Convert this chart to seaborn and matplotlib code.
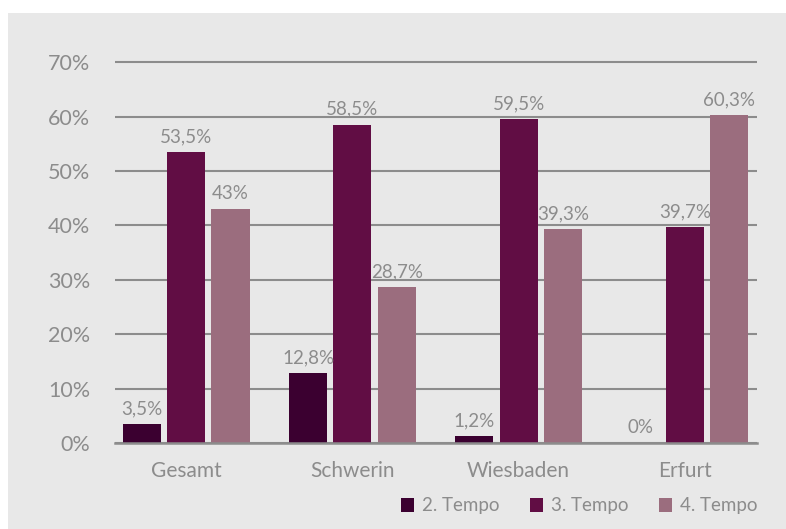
import matplotlib
matplotlib.use("Agg")
import matplotlib.pyplot as plt
import seaborn as sns
import pandas as pd
from matplotlib.patches import Rectangle, Patch

categories = ["Gesamt", "Schwerin", "Wiesbaden", "Erfurt"]
series_names = ["2. Tempo", "3. Tempo", "4. Tempo"]
tempo2 = [3.5, 12.8, 1.2, 0.0]
tempo3 = [53.5, 58.5, 59.5, 39.7]
tempo4 = [43.0, 28.7, 39.3, 60.3]
yticks = [0, 10, 20, 30, 40, 50, 60, 70]

colors = ["#3b0030", "#610d44", "#9b6d7e"]
txt = "#8c8c8c"
grid = "#8c8c8c"
bg = "#e8e8e8"

rows = []
for name, vals in zip(series_names, [tempo2, tempo3, tempo4]):
    for c, v in zip(categories, vals):
        rows.append({"Ort": c, "Serie": name, "Wert": v})
df = pd.DataFrame(rows)

sns.set_theme(style="white")
plt.rcParams["font.family"] = ["Lato", "DejaVu Sans"]

fig = plt.figure(figsize=(7.86, 5.29), dpi=100)
fig.patch.set_facecolor("white")
fig.patches.append(Rectangle((8 / 786, 0), 1, 1 - 13 / 529, transform=fig.transFigure,
                             facecolor=bg, edgecolor="none", zorder=-10))
ax = fig.add_axes([115 / 786, 1 - 443 / 529, (757 - 115) / 786, 0.903 - (1 - 443 / 529)])
ax.set_facecolor(bg)
ax.patch.set_alpha(0)

sns.barplot(data=df, x="Ort", y="Wert", hue="Serie", palette=colors, width=0.8, gap=0.14,
            order=categories, hue_order=series_names, ax=ax, legend=False, zorder=3,
            saturation=1, linewidth=0, edgecolor="none", err_kws={"linewidth": 0})

ax.set_ylim(0, 72)
ax.set_xlim(-0.428, 3.434)
ax.set_yticks(yticks)
ax.set_yticklabels([f"{t}%" for t in yticks])
ax.yaxis.grid(True, color=grid, linewidth=1.5, zorder=0)
ax.set_axisbelow(True)
for s in ["top", "right", "left"]:
    ax.spines[s].set_visible(False)
ax.spines["bottom"].set_color(grid)
ax.spines["bottom"].set_linewidth(1.8)
ax.spines["bottom"].set_zorder(5)
ax.tick_params(axis="y", length=0, pad=18, labelsize=15.5, labelcolor=txt)
ax.tick_params(axis="x", length=0, pad=13, labelsize=15, labelcolor=txt)
ax.set_xlabel("")
ax.set_ylabel("")

def fmt(v):
    return f"{v:g}".replace(".", ",") + "%"

for cont in ax.containers:
    ax.bar_label(cont, labels=[fmt(b.get_height()) for b in cont], padding=5,
                 fontsize=13.5, color=txt)

handles = [Patch(facecolor=c, edgecolor="none") for c in colors]
fig.legend(handles, series_names, loc="center right", bbox_to_anchor=(774 / 786, 1 - 506 / 529),
           ncol=3, frameon=False, fontsize=13.5, labelcolor=txt, handlelength=0.7,
           handleheight=0.7, handletextpad=0.4, columnspacing=1.65)

fig.savefig("out.png", dpi=100, facecolor="white")
